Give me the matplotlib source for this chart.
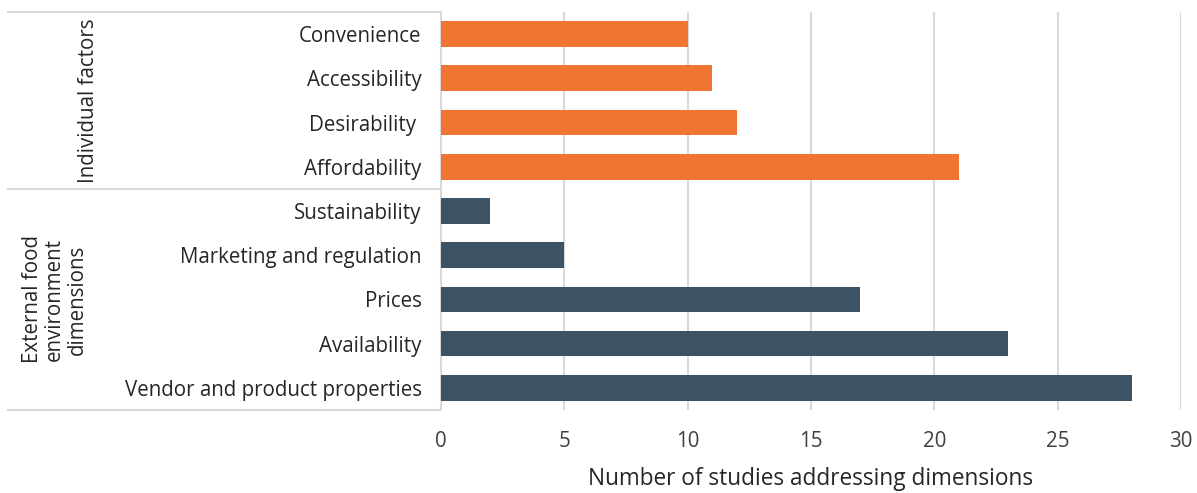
import matplotlib
matplotlib.use('Agg')
import numpy as np
from matplotlib import pyplot as plt

categories = ['Convenience', 'Accessibility', 'Desirability ', 'Affordability',
              'Sustainability', 'Marketing and regulation', 'Prices',
              'Availability', 'Vendor and product properties']
values = [10, 11, 12, 21, 2, 5, 17, 23, 28]
groups = ['individual'] * 4 + ['external'] * 5
group_labels = ['Individual factors', 'External food\nenvironment\ndimensions']
xticks = [0, 5, 10, 15, 20, 25, 30]

colors = {'individual': '#F07532', 'external': '#3D5363'}

def main():
	plt.rcParams['font.family'] = ['Open Sans', 'DejaVu Sans']
	fig = plt.figure(figsize=(11.97, 4.93), dpi=100)
	ax = fig.add_axes([0.3684, 0.1684, 0.6182, 0.8073])

	y = np.arange(len(categories))
	ax.barh(y, values, height=0.58, color=[colors[g] for g in groups], zorder=3)
	ax.set_ylim(len(categories) - 0.5, -0.5)
	ax.set_xlim(0, 30)
	ax.set_xticks(xticks)
	ax.set_yticks(y)
	ax.set_yticklabels(categories, fontsize=14.8, color='#262626')
	ax.tick_params(axis='y', length=0, pad=14)
	ax.tick_params(axis='x', length=0, pad=15, labelsize=14.8, labelcolor='#404040')
	ax.grid(axis='x', color='#D9D9D9', linewidth=1.5, zorder=0)
	for s in ['top', 'right', 'bottom']:
		ax.spines[s].set_visible(False)
	ax.spines['left'].set_color('#D9D9D9')
	ax.spines['left'].set_linewidth(1.5)
	ax.set_xlabel('Number of studies addressing dimensions', fontsize=16.3, color='#262626', labelpad=11)

	# group box on the left
	trans = ax.get_yaxis_transform()
	x0 = -0.585
	for yy in [-0.5, 3.5, 8.5]:
		ax.plot([x0, 0], [yy, yy], color='#D9D9D9', lw=1.5, transform=trans, clip_on=False)
	ax.text(-0.477, 1.5, group_labels[0], rotation=90, ha='center', va='center',
			fontsize=14.8, color='#262626', transform=trans)
	ax.text(-0.522, 6.0, group_labels[1], rotation=90, ha='center', va='center',
			fontsize=14.8, color='#262626', transform=trans, linespacing=1.1)

	fig.savefig('out.png', dpi=100)

if __name__ == '__main__':
	main()
